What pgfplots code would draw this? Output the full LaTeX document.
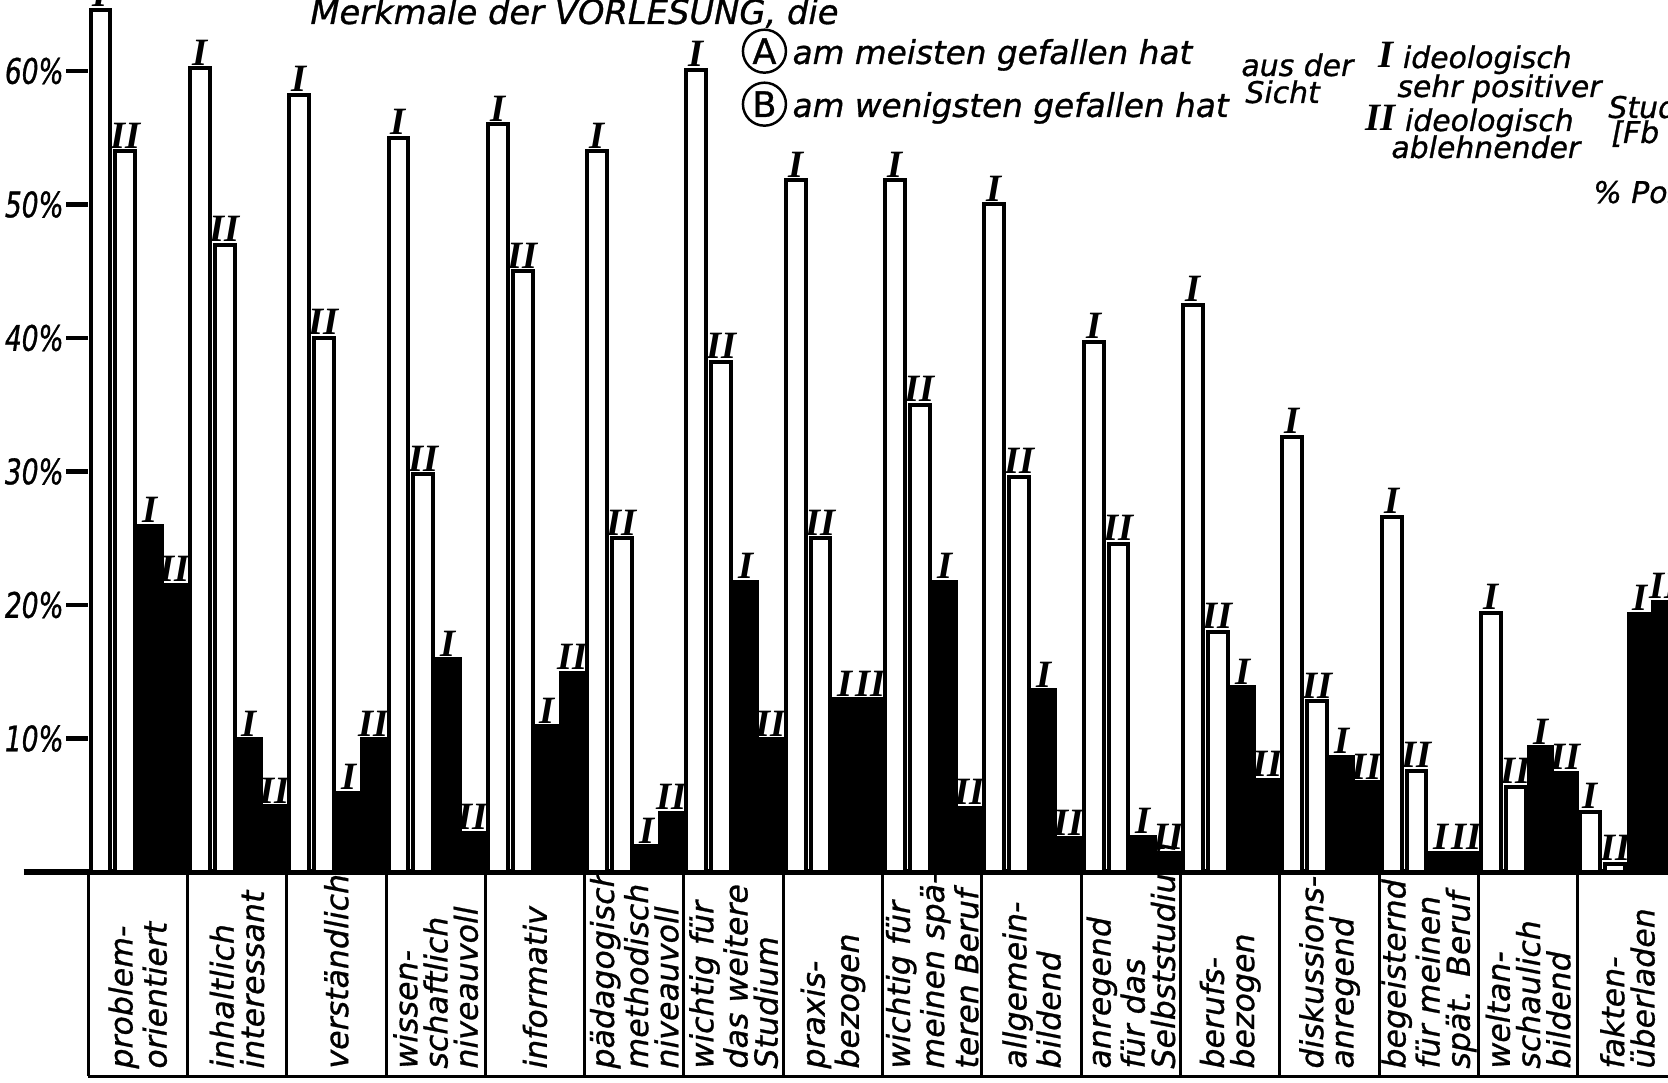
\documentclass[border=0pt]{standalone}
\usepackage{fontspec}
\setmainfont{DejaVu Sans}
\newfontfamily\numfont{Liberation Serif}
\newfontfamily\hand{DejaVu Sans}[FakeBold=0.9]
\newfontfamily\handn{DejaVu Sans}[FakeBold=0.9, FakeStretch=0.75]
\usepackage{pgfplots}
\usepackage{pgfplotstable}
\pgfplotsset{compat=1.18}

\newcommand\hf{\hand\fontsize{9.6}{11}\selectfont\itshape}
\newcommand\af{\hand\fontsize{9.3}{11}\selectfont\itshape}
\newcommand\lf{\hand\fontsize{9.0}{8.6}\selectfont\itshape}
\newcommand\tf{\hand\fontsize{8.5}{10}\selectfont\itshape}
\newcommand\yf{\handn\fontsize{10}{10}\selectfont\itshape}
\newcommand\rf{\numfont\fontsize{11}{11}\selectfont\bfseries\itshape}
\newcommand\circled[1]{\tikz[baseline=(c.base)]\node[circle,draw,line width=0.7pt,inner sep=0.8pt,font=\hand\upshape\fontsize{10}{10}\selectfont](c){#1};}

\pgfplotstableread{
idx wI wII bI bII
0 64.6 54 26 21.6
1 60.2 47 10 5
2 58.2 40 6 10
3 55 29.8 16 3
4 56 45 11 15
5 54 25 2 4.5
6 60.1 38.2 21.8 10
7 51.8 25 13 13
8 51.8 35 21.8 4.9
9 50 29.6 13.7 2.6
10 39.7 24.6 2.7 1.5
11 42.5 18 13.9 7
12 32.6 12.8 8.7 6.8
13 26.6 7.6 1.5 1.5
14 19.4 6.4 9.4 7.5
15 4.5 0.6 19.4 20.3
}\data

\begin{document}
\begin{tikzpicture}
\useasboundingbox (0,0) rectangle (166.8mm,108.3mm);
\clip (0,0) rectangle (166.8mm,108.3mm);
\begin{axis}[
  at={(2.35mm,21.1mm)}, anchor=south west,
  x=2.483mm, y=1.335mm,
  xmin=-2.6, xmax=63.65, ymin=0, ymax=65.3,
  axis x line=bottom, axis y line=middle,
  axis line style={-},
  x axis line style={line width=0.55mm},
  y axis line style={draw=none},
  clip=false,
  xtick={2,6,...,62},
  xticklabels={{problem-\\orientiert},{inhaltlich\\interessant},{verständlich},{wissen-\\schaftlich\\niveauvoll},{informativ},{pädagogisch\\methodisch\\niveauvoll},{wichtig für\\das weitere\\Studium},{praxis-\\bezogen},{wichtig für\\meinen spä-\\teren Beruf},{allgemein-\\bildend},{anregend\\für das\\Selbststudium},{berufs-\\bezogen},{diskussions-\\anregend},{begeisternd\\für meinen\\spät. Beruf},{weltan-\\schaulich\\bildend},{fakten-\\überladen}},
  minor xtick={0,4,...,60},
  ytick={10,20,30,40,50,60},
  yticklabels={10\%,20\%,30\%,40\%,50\%,60\%},
  tick align=outside,
  major tick length=2.2mm,
  minor tick length=20.4mm,
  major x tick style={draw=none},
  minor x tick style={draw=black, line width=0.3mm},
  ytick style={draw=black, line width=0.45mm},
  xticklabel shift=18.7mm,
  xticklabel style={font=\lf, align=left, rotate=90, anchor=west},
  yticklabel style={font=\yf, inner sep=0.5pt},
  nodes near coords style={font=\rf, anchor=south, inner sep=0.3pt},
]
\addplot[ybar, bar width=0.8, bar shift=0pt, fill=white, draw=black, line width=0.4mm, nodes near coords={I}]
  table[x expr=4*\thisrow{idx}+0.5, y=wI] {\data};
\addplot[ybar, bar width=0.8, bar shift=0pt, fill=white, draw=black, line width=0.4mm, nodes near coords={II}]
  table[x expr=4*\thisrow{idx}+1.5, y=wII] {\data};
\addplot[ybar, bar width=1, bar shift=0pt, fill=black, draw=black, line width=0.2mm, nodes near coords={I}]
  table[x expr=4*\thisrow{idx}+2.5, y=bI] {\data};
\addplot[ybar, bar width=1, bar shift=0pt, fill=black, draw=black, line width=0.2mm, nodes near coords={II}]
  table[x expr=4*\thisrow{idx}+3.5, y=bII] {\data};
\draw[line width=0.35mm] (axis cs:0,-15.3) -- (axis cs:66,-15.3);
\end{axis}
\node[anchor=base west, font=\hf] at (29.8mm,105.9mm) {Merkmale der VORLESUNG, die};
\node[anchor=base west, font=\af, inner sep=0pt] at (74.1mm,101.9mm) {\circled{A}\,am meisten gefallen hat};
\node[anchor=base west, font=\af, inner sep=0pt] at (74.1mm,96.6mm) {\circled{B}\,am wenigsten gefallen hat};
\node[anchor=base west, font=\tf] at (122.9mm,100.7mm) {aus der};
\node[anchor=base west, font=\tf] at (123.3mm,98.0mm) {Sicht};
\node[anchor=base west, font=\tf] at (136.6mm,101.5mm) {{\rf I} ideologisch};
\node[anchor=base west, font=\tf] at (138.5mm,98.6mm) {sehr positiver};
\node[anchor=base west, font=\tf] at (135.3mm,95.2mm) {{\rf II} ideologisch};
\node[anchor=base west, font=\tf] at (137.9mm,92.5mm) {ablehnender};
\node[anchor=base west, font=\tf] at (159.6mm,96.5mm) {Studenten};
\node[anchor=base west, font=\tf] at (159.9mm,94.0mm) {[Fb 1]};
\node[anchor=base west, font=\tf] at (158.1mm,88.0mm) {\% Positionen};
\end{tikzpicture}
\end{document}
